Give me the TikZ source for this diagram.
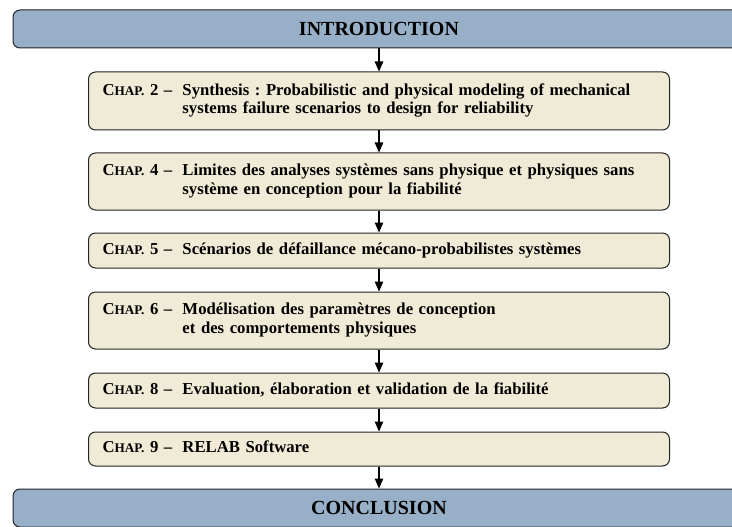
\documentclass[tikz,border=0pt]{standalone}
\usepackage{fontspec}
\setmainfont{Liberation Serif}
\usetikzlibrary{arrows.meta}
\definecolor{bluebox}{RGB}{151,176,200}
\definecolor{creambox}{RGB}{240,235,214}
\definecolor{edgecol}{RGB}{35,35,35}
\frenchspacing
\newcommand{\chaplab}[1]{\makebox[80pt][l]{C{\fontsize{13.2}{18}\selectfont HAP.}\ #1\ \textendash}}
\newcommand{\chapbody}[1]{\begin{tabular}[t]{@{}l@{}}#1\end{tabular}}
\tikzset{
  mainbox/.style={draw=edgecol, line width=1pt, fill=bluebox, rounded corners=7pt,
    minimum width=732pt, minimum height=38pt, inner sep=0pt,
    font=\bfseries\fontsize{20}{22}\selectfont},
  chapbox/.style={draw=edgecol, line width=1pt, fill=creambox, rounded corners=7pt,
    minimum width=581pt, text width=553pt, inner xsep=14pt, inner ysep=0pt, align=left,
    font=\bfseries\fontsize{16.7}{18.5}\selectfont},
  flow/.style={line width=1.2pt, -{Triangle[length=10pt,width=8.5pt]}}
}
\begin{document}
\begin{tikzpicture}[x=1pt,y=-1pt]
\clip (0,0) rectangle (732,527);
\node[mainbox] (intro) at (379,29) {INTRODUCTION};
\node[chapbox, minimum height=58pt] (c2) at (379,101)
  {\chaplab{2}\chapbody{Synthesis : Probabilistic and physical modeling of mechanical\\systems failure scenarios to design for reliability}};
\node[chapbox, minimum height=57pt] (c4) at (379,181.5)
  {\chaplab{4}\chapbody{Limites des analyses systèmes sans physique et physiques sans\\système en conception pour la fiabilité}};
\node[chapbox, minimum height=35pt] (c5) at (379,250.5)
  {\chaplab{5}\chapbody{Scénarios de défaillance mécano-probabilistes systèmes}};
\node[chapbox, minimum height=57pt] (c6) at (379,320.5)
  {\chaplab{6}\chapbody{Modélisation des paramètres de conception\\et des comportements physiques}};
\node[chapbox, minimum height=35pt] (c8) at (379,390.5)
  {\chaplab{8}\chapbody{Evaluation, élaboration et validation de la fiabilité}};
\node[chapbox, minimum height=34pt] (c9) at (379,449)
  {\chaplab{9}\chapbody{RELAB Software}};
\node[mainbox] (concl) at (379,508) {CONCLUSION};
\draw[flow] (intro) -- (c2);
\draw[flow] (c2) -- (c4);
\draw[flow] (c4) -- (c5);
\draw[flow] (c5) -- (c6);
\draw[flow] (c6) -- (c8);
\draw[flow] (c8) -- (c9);
\draw[flow] (c9) -- (concl);
\end{tikzpicture}
\end{document}
